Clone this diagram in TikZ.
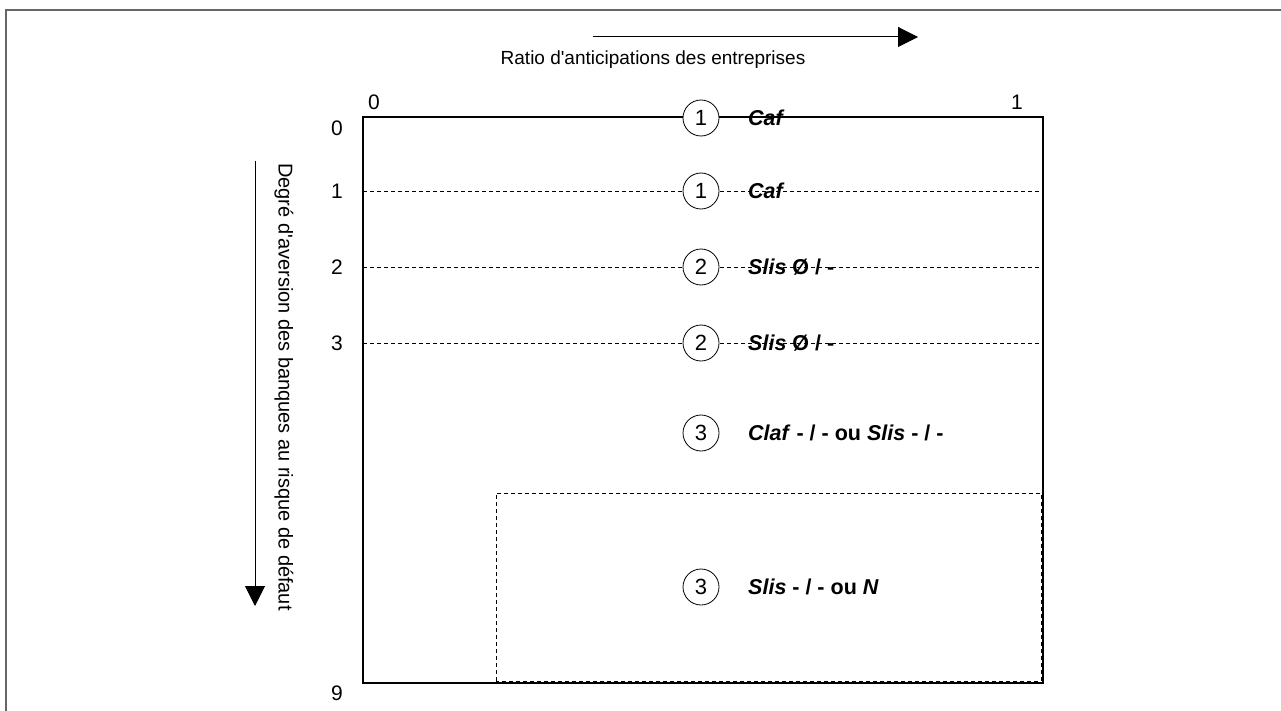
\documentclass[tikz,border=0pt]{standalone}
\usepackage{fontspec}
\setmainfont{Liberation Sans}[Ligatures=TeXOff]
\usetikzlibrary{arrows.meta}
\begin{document}
\begin{tikzpicture}[x=1pt,y=-1pt,
  lbl/.style={font=\fontsize{19}{22}\selectfont, inner sep=0pt},
  num/.style={font=\fontsize{21}{23}\selectfont, inner sep=0pt},
  circ/.style={circle, draw, fill=white, line width=0.8pt, minimum size=36pt, inner sep=0pt, font=\fontsize{22}{24}\selectfont},
  res/.style={font=\fontsize{21.5}{24}\selectfont\bfseries, anchor=west, inner sep=0pt},
  dline/.style={dash pattern=on 4pt off 3pt, line width=0.8pt},
  bigarrow/.style={-{Triangle[length=20pt,width=20pt]}, line width=1pt}
]
\useasboundingbox (0,0) rectangle (1281,711);
% outer frame
\draw[gray!80!black, line width=1.6pt] (6,711) -- (6,10) -- (1281,10);

% top arrow
\coordinate (ha1) at (593,37);
\coordinate (ha2) at (918,37);
\draw[bigarrow] (ha1) -- (ha2);
\node[lbl] (htext) at (653,60) {Ratio d'anticipations des entreprises};

% left arrow
\coordinate (va1) at (255,161);
\coordinate (va2) at (255,606);
\draw[bigarrow] (va1) -- (va2);
\node[lbl, font=\fontsize{20}{22}\selectfont, rotate=-90] (vtext) at (284,387) {Degré d'aversion des banques au risque de défaut};

% axis ticks labels
\node[num] (x0) at (374,102) {0};
\node[num] (x1) at (1017,102) {1};
\node[num] (y0) at (337,128) {0};
\node[num] (y1) at (337,191) {1};
\node[num] (y2) at (337,267) {2};
\node[num] (y3) at (337,343) {3};
\node[num] (y9) at (337,693) {9};

% dashed region
\draw[dline] (496,681) -- (496,493) -- (1041,493) -- (1041,681) -- cycle;

% main box
\coordinate (tl) at (363,117);
\coordinate (tr) at (1043,117);
\coordinate (bl) at (363,683);
\coordinate (br) at (1043,683);
\draw[line width=1.3pt] (tl) -- (tr) -- (br) -- (bl) -- cycle;

% dashed levels
\draw[dline] (363,191) -- (1043,191);
\draw[dline] (363,267) -- (1043,267);
\draw[dline] (363,343) -- (1043,343);

% circles and results
\node[circ] (c0) at (701,118) {1};
\node[res] (r0) at (748,118) {\itshape Caf};
\node[circ] (c1) at (701,191) {1};
\node[res] (r1) at (748,191) {\itshape Caf};
\node[circ] (c2) at (701,267) {2};
\node[res] (r2) at (748,267) {\textit{Slis} Ø / -};
\node[circ] (c3) at (701,343) {2};
\node[res] (r3) at (748,343) {\textit{Slis} Ø / -};
\node[circ] (c4) at (701,433) {3};
\node[res] (r4) at (748,433) {\textit{Claf} - / - ou \textit{Slis} - / -};
\node[circ] (c5) at (701,587) {3};
\node[res] (r5) at (748,587) {\textit{Slis} - / - ou \textit{N}};
\end{tikzpicture}
\end{document}
